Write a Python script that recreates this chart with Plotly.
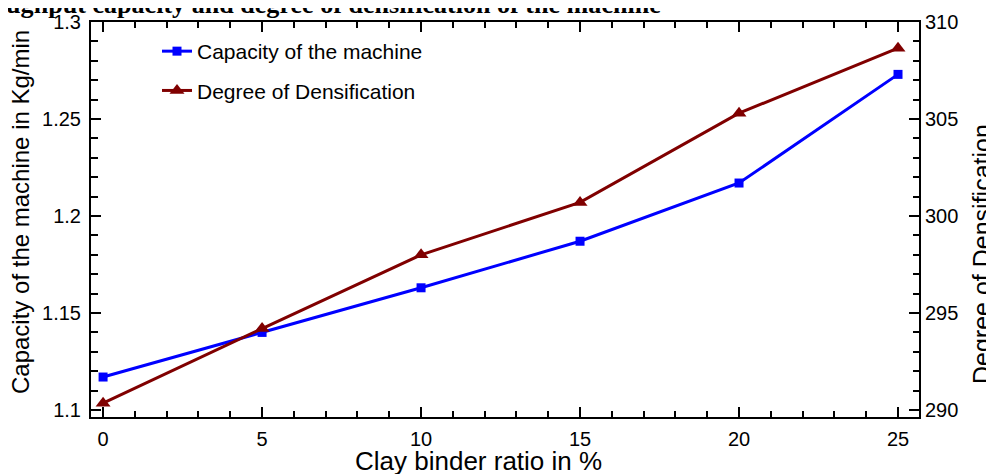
import plotly.graph_objects as go

# ---- data ----
clay_ratio = [0, 5, 10, 15, 20, 25]
capacity = [1.117, 1.140, 1.163, 1.187, 1.217, 1.273]
densification = [290.35, 294.2, 298.0, 300.7, 305.3, 308.65]

x_ticks = [0, 5, 10, 15, 20, 25]
y_ticks = [1.1, 1.15, 1.2, 1.25, 1.3]
y2_ticks = [290, 295, 300, 305, 310]

title_text = "Throughput capacity and degree of densification of the machine"
x_title = "Clay binder ratio in %"
y_title = "Capacity of the machine in Kg/min"
y2_title = "Degree of Densification"

# page is offset by the 8px body margin, so the figure is 8px smaller
OFF = 8
W, H = 994 - OFF, 474 - OFF
L, R, T, B = 91 - OFF, 75, 22 - OFF, 57
pw, ph = W - L - R, H - T - B

def px_x(p):  # page pixel -> paper
    return (p - OFF - L) / pw

def px_y(p):
    return (H - B - (p - OFF)) / ph

BLUE = "#0000FF"
RED = "#800000"
SANS = "Arial, Liberation Sans, sans-serif"

fig = go.Figure()
fig.add_trace(go.Scatter(
    x=clay_ratio, y=capacity, name="Capacity of the machine",
    mode="lines+markers", legendgroup="a",
    line=dict(color=BLUE, width=3),
    marker=dict(symbol="square", size=9, color=BLUE),
))
fig.add_trace(go.Scatter(
    x=clay_ratio, y=densification, name="Degree of Densification",
    mode="lines+markers", yaxis="y2", legendgroup="b",
    line=dict(color=RED, width=3),
    marker=dict(symbol="triangle-up", size=13, color=RED),
))

axis_common = dict(
    showline=True, linecolor="black", linewidth=2,
    ticks="inside", ticklen=10, tickwidth=1.5, tickcolor="black",
    showgrid=False, zeroline=False, automargin=False,
    tickfont=dict(family=SANS, size=20, color="black"),
)

fig.update_layout(
    width=W, height=H,
    margin=dict(l=L, r=R, t=T, b=B, autoexpand=False),
    paper_bgcolor="white", plot_bgcolor="white",
    xaxis=dict(
        **axis_common,
        range=[-0.38, 25.66], tickvals=x_ticks, mirror="ticks",
        minor=dict(dtick=1, tick0=0, ticks="inside", ticklen=6, tickwidth=1.5, tickcolor="black"),
        ticklabelstandoff=3,
    ),
    yaxis=dict(
        **axis_common,
        range=[1.0964, 1.3], tickvals=y_ticks,
        minor=dict(dtick=0.01, tick0=1.1, ticks="inside", ticklen=7, tickwidth=1.5, tickcolor="black"),
        ticklabelstandoff=4,
    ),
    yaxis2=dict(
        **axis_common,
        overlaying="y", side="right",
        range=[289.64, 310], tickvals=y2_ticks,
        minor=dict(dtick=1, tick0=290, ticks="inside", ticklen=6, tickwidth=1.5, tickcolor="black"),
        ticklabelstandoff=0,
    ),
    legend=dict(
        x=px_x(157), y=px_y(31), xanchor="left", yanchor="top",
        bgcolor="rgba(0,0,0,0)", borderwidth=0,
        font=dict(family=SANS, size=21, color="black"),
        traceorder="grouped", tracegroupgap=9,
    ),
    showlegend=True,
)

fig.add_annotation(text=f"<b>{title_text}</b>", xref="paper", yref="paper",
                   x=px_x(663), y=px_y(4.5), xanchor="right", yanchor="middle",
                   showarrow=False,
                   font=dict(family="Times New Roman, Liberation Serif, serif", size=26.1, color="black"))
fig.add_annotation(text=x_title, xref="paper", yref="paper",
                   x=px_x(478), y=px_y(461), xanchor="center", yanchor="middle",
                   showarrow=False, font=dict(family=SANS, size=26, color="black"))
fig.add_annotation(text=y_title, xref="paper", yref="paper",
                   x=px_x(20), y=px_y(212), xanchor="center", yanchor="middle",
                   textangle=-90, showarrow=False, font=dict(family=SANS, size=24, color="black"))
fig.add_annotation(text=y2_title, xref="paper", yref="paper",
                   x=px_x(982), y=px_y(254), xanchor="center", yanchor="middle",
                   textangle=-90, showarrow=False, font=dict(family=SANS, size=25, color="black"))

fig.write_html("out.html")
